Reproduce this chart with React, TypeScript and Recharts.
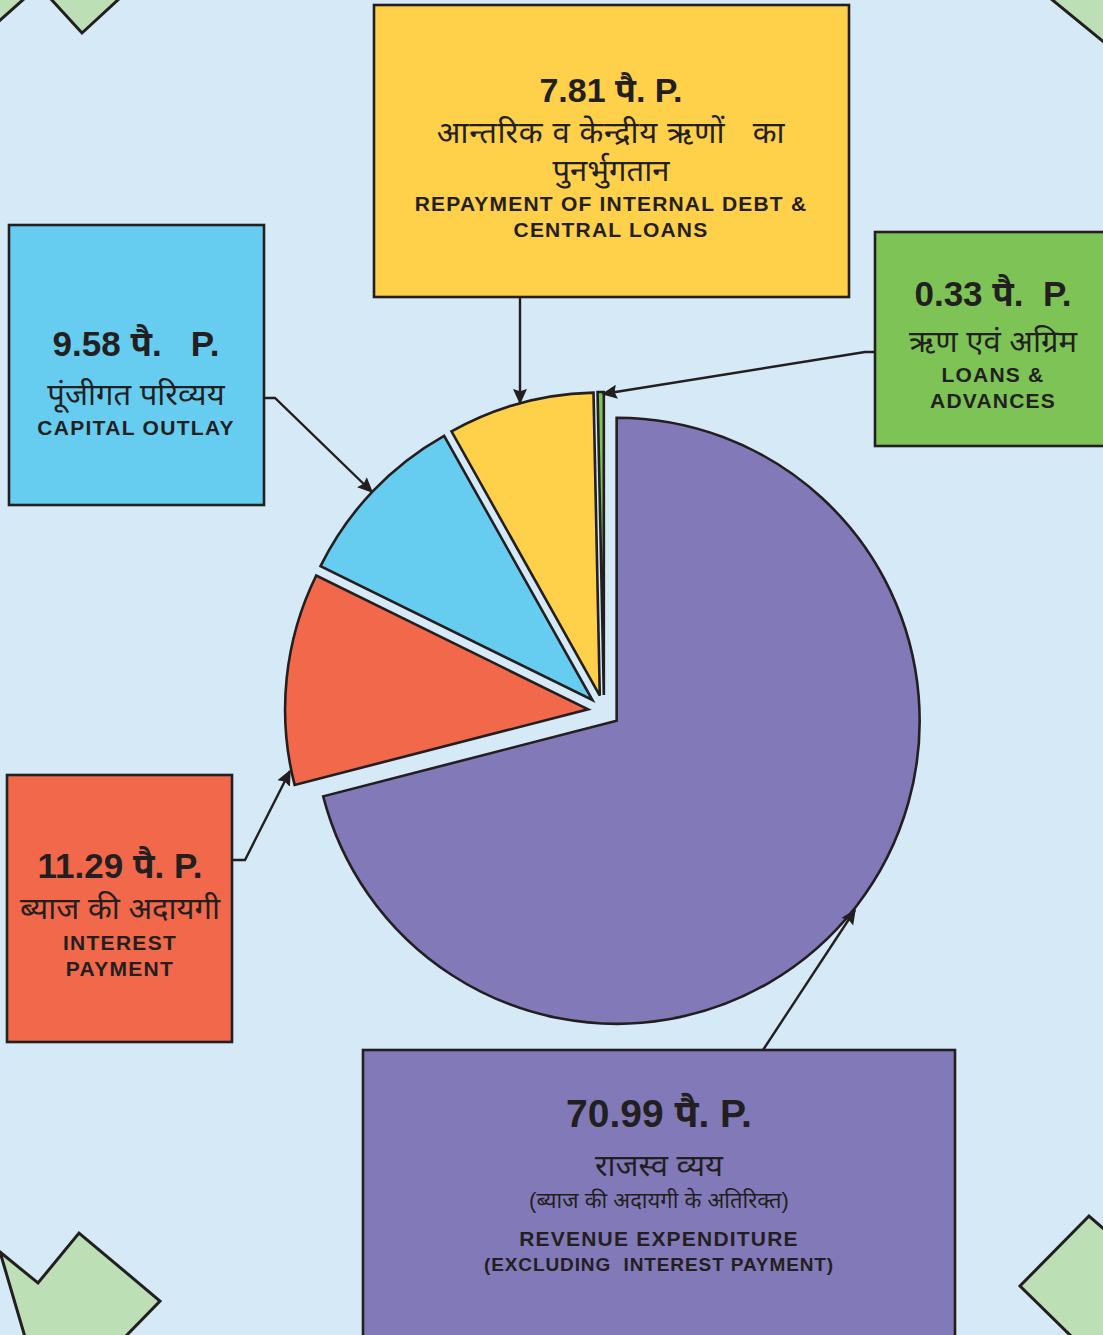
import React from 'react';
import { PieChart, Pie, Cell, Sector } from 'recharts';

// paise per rupee spent
const categories = ['Revenue Expenditure', 'Interest Payment', 'Capital Outlay', 'Repayment of Internal Debt & Central Loans', 'Loans & Advances'];
const values = [70.99, 11.29, 9.58, 7.81, 0.33];
const colors = ['#8279b9', '#f1684b', '#66cdf0', '#ffd049', '#7dc356'];

const valueLabels = ['70.99 पै. P.', '11.29 पै. P.', '9.58 पै.   P.', '7.81 पै. P.', '0.33 पै.  P.'];
const hindiLabels = [
  ['राजस्व व्यय', '(ब्याज की अदायगी के अतिरिक्त)'],
  ['ब्याज की अदायगी'],
  ['पूंजीगत परिव्यय'],
  ['आन्तरिक व केन्द्रीय ऋणों   का', 'पुनर्भुगतान'],
  ['ऋण एवं अग्रिम'],
];
const englishLabels = [
  ['REVENUE EXPENDITURE', '(EXCLUDING  INTEREST PAYMENT)'],
  ['INTEREST', 'PAYMENT'],
  ['CAPITAL OUTLAY'],
  ['REPAYMENT OF INTERNAL DEBT &', 'CENTRAL LOANS'],
  ['LOANS &', 'ADVANCES'],
];

const data = categories.map((name, i) => ({ name, value: values[i] }));

const W = 1103;
const H = 1335;
const BG = '#d6e9f6';
const INK = '#231f20';
const DECO = '#bcdfb5';
const FONT = '"Liberation Sans", Arial, "Noto Sans", sans-serif';
const EXPLODE = 16;
const RAD = Math.PI / 180;

const ExplodedSector = (props: any) => {
  const { cx, cy, midAngle } = props;
  const dx = Math.cos(-midAngle * RAD) * EXPLODE;
  const dy = Math.sin(-midAngle * RAD) * EXPLODE;
  return <Sector {...props} cx={cx + dx} cy={cy + dy} stroke={INK} strokeWidth={2.6} strokeLinejoin="miter" />;
};

type Line = { text: string; y: number; size: number; bold?: boolean; ls?: number };

const boxes: { idx: number; x: number; y: number; w: number; h: number; tx: number; lines: Line[] }[] = [
  {
    idx: 3, x: 374, y: 5, w: 475, h: 292, tx: 611,
    lines: [
      { text: valueLabels[3], y: 90, size: 34, bold: true },
      { text: hindiLabels[3][0], y: 132, size: 31, ls: 0.6 },
      { text: hindiLabels[3][1], y: 170, size: 31 },
      { text: englishLabels[3][0], y: 203, size: 21, bold: true, ls: 1.2 },
      { text: englishLabels[3][1], y: 229, size: 21, bold: true, ls: 1.2 },
    ],
  },
  {
    idx: 4, x: 875, y: 232, w: 235, h: 214, tx: 993,
    lines: [
      { text: valueLabels[4], y: 293, size: 35, bold: true },
      { text: hindiLabels[4][0], y: 341, size: 31 },
      { text: englishLabels[4][0], y: 374, size: 21, bold: true, ls: 1.2 },
      { text: englishLabels[4][1], y: 400, size: 21, bold: true, ls: 1.2 },
    ],
  },
  {
    idx: 2, x: 9, y: 225, w: 255, h: 280, tx: 136,
    lines: [
      { text: valueLabels[2], y: 343, size: 35, bold: true },
      { text: hindiLabels[2][0], y: 394, size: 31 },
      { text: englishLabels[2][0], y: 427, size: 21, bold: true, ls: 1.3 },
    ],
  },
  {
    idx: 1, x: 7, y: 775, w: 225, h: 267, tx: 120,
    lines: [
      { text: valueLabels[1], y: 865, size: 35, bold: true },
      { text: hindiLabels[1][0], y: 908, size: 31 },
      { text: englishLabels[1][0], y: 942, size: 21, bold: true, ls: 1.3 },
      { text: englishLabels[1][1], y: 968, size: 21, bold: true, ls: 1.3 },
    ],
  },
  {
    idx: 0, x: 363, y: 1050, w: 592, h: 300, tx: 659,
    lines: [
      { text: valueLabels[0], y: 1113, size: 39, bold: true },
      { text: hindiLabels[0][0], y: 1165, size: 31 },
      { text: hindiLabels[0][1], y: 1200, size: 22 },
      { text: englishLabels[0][0], y: 1238, size: 21, bold: true, ls: 1.2 },
      { text: englishLabels[0][1], y: 1264, size: 19, bold: true, ls: 0.9 },
    ],
  },
];

// leader lines: box edge -> slice
const leaders = [
  '520,297 520,403',
  '875,352 865,352 603,394',
  '264,398 275,398 372,492',
  '232,860 245,860 290,771',
  '763,1050 855,910',
];

const decorations = [
  '50,-2 82,33 120,-2',
  '-2,22 25,-2 -2,-2',
  '1050,-2 1105,43 1105,-2',
  '0,1252 38,1283 79,1233 160,1301 125,1337 25,1337',
  '1089,1216 1020,1286 1072,1337 1105,1337 1105,1230',
];

export default function App() {
  return (
    <div style={{ position: 'absolute', left: 0, top: 0, width: W, height: H, background: BG, overflow: 'hidden' }}>
      <svg width={W} height={H} style={{ position: 'absolute', left: 0, top: 0 }}>
        {decorations.map((p, i) => (
          <polygon key={i} points={p} fill={DECO} stroke={INK} strokeWidth={3} />
        ))}
      </svg>
      <div style={{ position: 'absolute', left: 0, top: 0 }}>
        <PieChart width={W} height={H} margin={{ top: 0, right: 0, bottom: 0, left: 0 }}>
          <Pie
            data={data}
            dataKey="value"
            nameKey="name"
            cx={604}
            cy={711}
            innerRadius={0}
            outerRadius={303}
            startAngle={90}
            endAngle={-270}
            isAnimationActive={false}
            shape={ExplodedSector}
            stroke={INK}
            strokeWidth={2.6}
          >
            {data.map((d, i) => (
              <Cell key={d.name} fill={colors[i]} />
            ))}
          </Pie>
        </PieChart>
      </div>
      <svg width={W} height={H} style={{ position: 'absolute', left: 0, top: 0, pointerEvents: 'none' }}>
        <defs>
          <marker id="arrow" viewBox="0 0 10 10" refX="9" refY="5" markerWidth="6.5" markerHeight="6.5" orient="auto" markerUnits="strokeWidth">
            <path d="M0,0.5 L10,5 L0,9.5 L1.5,5 z" fill={INK} />
          </marker>
        </defs>
        {leaders.map((p, i) => (
          <polyline key={i} points={p} fill="none" stroke={INK} strokeWidth={2.4} markerEnd="url(#arrow)" />
        ))}
        {boxes.map((b) => (
          <g key={b.idx}>
            <rect x={b.x} y={b.y} width={b.w} height={b.h} fill={colors[b.idx]} stroke={INK} strokeWidth={2.6} />
            {b.lines.map((l, j) => (
              <text
                key={j}
                x={b.tx}
                y={l.y}
                textAnchor="middle"
                dominantBaseline="central"
                fontFamily={FONT}
                fontSize={l.size}
                fontWeight={l.bold ? 700 : 400}
                letterSpacing={l.ls ?? 0}
                fill={INK}
                style={{ whiteSpace: 'pre' }}
              >
                {l.text}
              </text>
            ))}
          </g>
        ))}
      </svg>
    </div>
  );
}
